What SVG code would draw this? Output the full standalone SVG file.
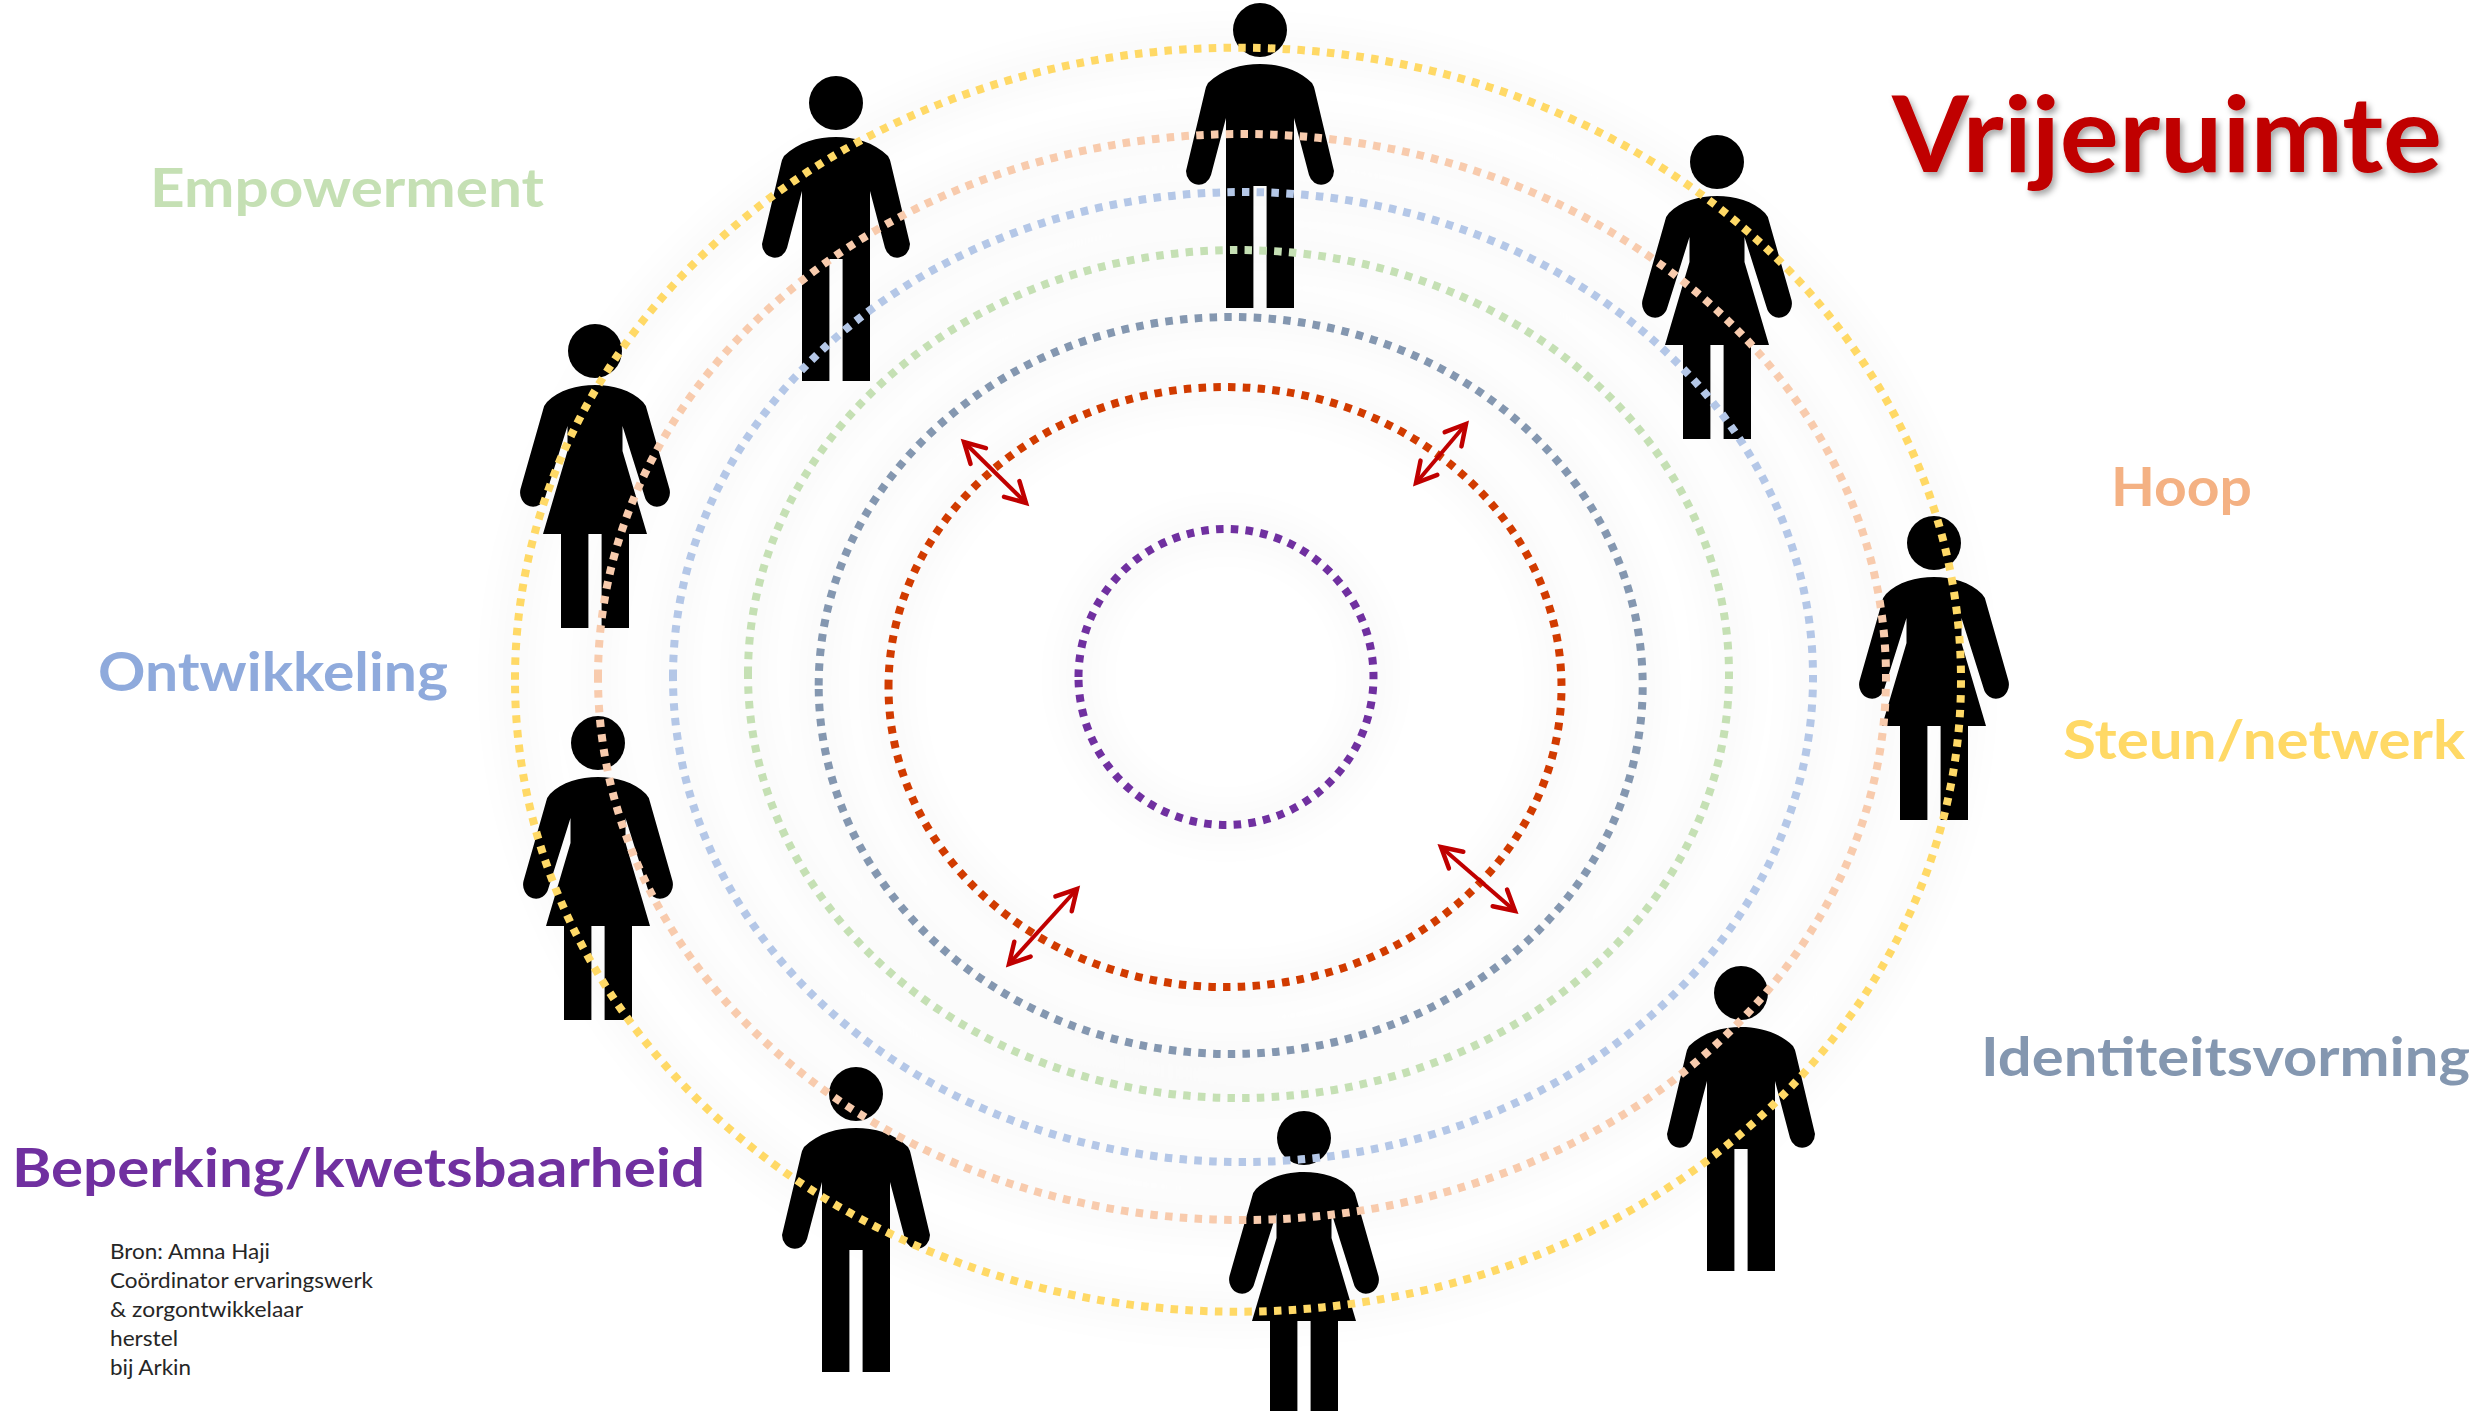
<svg xmlns="http://www.w3.org/2000/svg" xmlns:xlink="http://www.w3.org/1999/xlink" width="2483" height="1411" viewBox="0 0 2483 1411">
<style>
.ring{fill:none;stroke-width:8;stroke-dasharray:7.5 7.3}
.glow{fill:none;stroke:#000;stroke-opacity:.02;stroke-width:40}
.lab{font-family:Lato,"Liberation Sans",sans-serif;font-weight:700;font-size:54px}
.src{font-family:Lato,"Liberation Sans",sans-serif;font-size:22px;fill:#262626}
.arrow{fill:none;stroke:#c00000;stroke-width:4}
</style>
<defs>
<filter id="blur" x="-10%" y="-10%" width="120%" height="120%"><feGaussianBlur stdDeviation="14"/></filter>
<filter id="shadow" x="-5%" y="-10%" width="110%" height="130%"><feDropShadow dx="3" dy="4" stdDeviation="3" flood-color="#000" flood-opacity=".35"/></filter>
<marker id="head" markerUnits="userSpaceOnUse" markerWidth="34" markerHeight="34" viewBox="-26 -17 34 34" refX="0" refY="0" orient="auto-start-reverse" overflow="visible"><path d="M-20 -11 L0 0 L-20 11" fill="none" stroke="#c00000" stroke-width="4.5" stroke-linecap="round" stroke-linejoin="miter"/></marker>
<g id="male"><circle cx="0" cy="27" r="27"/><path d="M0 61C18 61 38 66 52 80Q54 83 55 88L74 168A12.8 14 0 0 1 49 172L34 115V305H6.6V183H-6.6V305H-34V115L-49 172A12.8 14 0 0 1-74 168L-55 88Q-54 83-52 80C-38 66-18 61 0 61Z"/></g>
<g id="female"><circle cx="0" cy="27" r="27"/><path d="M0 61C18 61 36 66 48 78Q51 81 52 86L74.500 165A12.800 14 0 0 1 49.500 172L27.500 102V127L52 210H34V304H6.600V210H-6.600V304H-34V210H-52L-27.500 127V102L-49.500 172A12.800 14 0 0 1-74.500 165L-52 86Q-51 81-48 78C-36 66-18 61 0 61Z"/></g>
</defs>
<rect width="2483" height="1411" fill="#fff"/>
<g id="ring-glow" filter="url(#blur)">
<ellipse class="glow" cx="1226" cy="677" rx="147.500" ry="148"/>
<ellipse class="glow" cx="1225" cy="687" rx="336.500" ry="300"/>
<ellipse class="glow" cx="1230.700" cy="685.500" rx="412" ry="368.500"/>
<ellipse class="glow" cx="1238.500" cy="674" rx="490.500" ry="424"/>
<ellipse class="glow" cx="1243" cy="677" rx="570" ry="485"/>
<ellipse class="glow" cx="1242" cy="677" rx="644" ry="543"/>
<ellipse class="glow" cx="1238" cy="679.700" rx="723" ry="632"/>
</g>
<g id="person-top"><use xlink:href="#male" href="#male" transform="translate(1260 3)"/></g>
<g id="person-top-left"><use href="#male" transform="translate(836 76)"/></g>
<g id="person-top-right"><use href="#female" transform="translate(1717 135)"/></g>
<g id="person-left-upper"><use href="#female" transform="translate(595 324)"/></g>
<g id="person-right"><use href="#female" transform="translate(1934 516)"/></g>
<g id="person-left-lower"><use href="#female" transform="translate(598 716)"/></g>
<g id="person-right-lower"><use href="#male" transform="translate(1741 966)"/></g>
<g id="person-bottom"><use href="#female" transform="translate(1304 1111)"/></g>
<g id="person-bottom-left"><use href="#male" transform="translate(856 1067)"/></g>
<g id="rings">
<ellipse class="ring" stroke="#ffd966" cx="1238" cy="679.700" rx="723" ry="632" transform="rotate(180 1238 679.700)"/>
<ellipse class="ring" stroke="#f8cbad" cx="1242" cy="677" rx="644" ry="543" transform="rotate(180 1242 677)"/>
<ellipse class="ring" stroke="#b4c7e7" cx="1243" cy="677" rx="570" ry="485" transform="rotate(180 1243 677)"/>
<ellipse class="ring" stroke="#c5e0b4" cx="1238.500" cy="674" rx="490.500" ry="424" transform="rotate(180 1238.500 674)"/>
<ellipse class="ring" stroke="#8497b0" cx="1230.700" cy="685.500" rx="412" ry="368.500" transform="rotate(180 1230.700 685.500)"/>
<ellipse class="ring" stroke="#d13b00" cx="1225" cy="687" rx="336.500" ry="300" transform="rotate(180 1225 687)"/>
<ellipse class="ring" stroke="#7030a0" cx="1226" cy="677" rx="147.500" ry="148" transform="rotate(180 1226 677)"/>
</g>
<g id="connectors">
<line class="arrow" x1="964" y1="442" x2="1026" y2="503" marker-start="url(#head)" marker-end="url(#head)"/>
<line class="arrow" x1="1466" y1="424" x2="1416" y2="483" marker-start="url(#head)" marker-end="url(#head)"/>
<line class="arrow" x1="1077" y1="889" x2="1009" y2="964" marker-start="url(#head)" marker-end="url(#head)"/>
<line class="arrow" x1="1441" y1="847" x2="1515" y2="911" marker-start="url(#head)" marker-end="url(#head)"/>
</g>
<g id="labels">
<text x="1892" y="172" font-family="Lato,'Liberation Sans',sans-serif" font-weight="700" font-size="105" fill="#c00000" textLength="550" lengthAdjust="spacingAndGlyphs" filter="url(#shadow)">Vrijeruimte</text>
<text class="lab" x="150" y="207" fill="#c5e0b4" textLength="394" lengthAdjust="spacingAndGlyphs">Empowerment</text>
<text class="lab" x="2111" y="506" fill="#f4b183" textLength="141" lengthAdjust="spacingAndGlyphs">Hoop</text>
<text class="lab" x="98" y="691" fill="#8faadc" textLength="350" lengthAdjust="spacingAndGlyphs">Ontwikkeling</text>
<text class="lab" x="2063" y="759" fill="#ffd966" textLength="402" lengthAdjust="spacingAndGlyphs">Steun/netwerk</text>
<text class="lab" x="1981" y="1076" fill="#8497b0" textLength="489" lengthAdjust="spacingAndGlyphs">Identiteitsvorming</text>
<text class="lab" x="12" y="1187" fill="#7030a0" textLength="693" lengthAdjust="spacingAndGlyphs">Beperking/kwetsbaarheid</text>
</g>
<g id="source">
<text class="src" x="110" y="1259" textLength="160" lengthAdjust="spacingAndGlyphs">Bron: Amna Haji</text>
<text class="src" x="110" y="1288" textLength="263" lengthAdjust="spacingAndGlyphs">Coördinator ervaringswerk</text>
<text class="src" x="110" y="1317" textLength="193" lengthAdjust="spacingAndGlyphs">&amp; zorgontwikkelaar</text>
<text class="src" x="110" y="1346" textLength="68" lengthAdjust="spacingAndGlyphs">herstel</text>
<text class="src" x="110" y="1375" textLength="81" lengthAdjust="spacingAndGlyphs">bij Arkin</text>
</g>
</svg>
